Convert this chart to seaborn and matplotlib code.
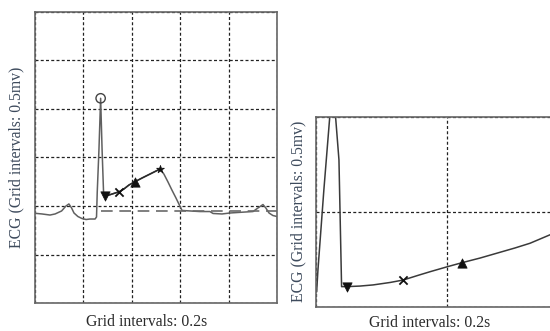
import numpy as np
import pandas as pd
import seaborn as sns
import matplotlib.pyplot as plt

# Left panel: one full beat (x in s, y in mV, grid 0.2 s x 0.5 mV)
left_t = [0.000, 0.029, 0.062, 0.083, 0.110, 0.128, 0.140, 0.151, 0.161, 0.177,
          0.194, 0.211, 0.227, 0.248, 0.254, 0.257, 0.264, 0.271, 0.277, 0.283,
          0.287, 0.318, 0.348, 0.367, 0.388, 0.413, 0.442, 0.475, 0.499, 0.516,
          0.532, 0.549, 0.565, 0.582, 0.598, 0.607, 0.640, 0.681, 0.722, 0.735,
          0.772, 0.805, 0.867, 0.900, 0.920, 0.941, 0.953, 0.966, 0.982, 0.999]
left_v = [0.926, 0.919, 0.908, 0.919, 0.950, 1.001, 1.022, 0.981, 0.929, 0.893,
          0.872, 0.862, 0.867, 0.867, 0.888, 1.145, 1.577, 2.109, 1.577, 1.145,
          1.099, 1.124, 1.148, 1.176, 1.217, 1.251, 1.289, 1.330, 1.360, 1.381,
          1.330, 1.248, 1.166, 1.083, 1.001, 0.955, 0.950, 0.944, 0.944, 0.924,
          0.919, 0.929, 0.939, 0.944, 0.980, 1.016, 0.980, 0.929, 0.903, 0.893]
left_baseline = 0.950
left_baseline_start = 0.271
# fiducial points: R peak, S, J-ish, ST mid, T peak
left_marks = {"o": (0.271, 2.109), "v": (0.287, 1.099), "x": (0.348, 1.148),
              "^": (0.413, 1.251), "*": (0.516, 1.381)}

# Right panel: zoomed ST segment
right_t = [0.001, 0.003, 0.012, 0.021, 0.024, 0.027, 0.030, 0.035, 0.039, 0.047,
           0.067, 0.087, 0.113, 0.133, 0.155, 0.174, 0.200, 0.222, 0.250, 0.275,
           0.303, 0.326, 0.356, 0.399]
right_v = [0.078, 0.194, 0.616, 1.003, 1.144, 1.144, 0.996, 0.775, 0.106, 0.106,
           0.109, 0.115, 0.128, 0.141, 0.165, 0.185, 0.211, 0.232, 0.257, 0.282,
           0.310, 0.335, 0.379, 0.440]
right_marks = {"v": (0.047, 0.106), "x": (0.133, 0.141), "^": (0.222, 0.232)}

ylab = "ECG (Grid intervals: 0.5mv)"
xlab = "Grid intervals: 0.2s"

sns.set_style("white")
plt.rcParams["font.family"] = ["Liberation Serif", "DejaVu Serif"]

fig = plt.figure(figsize=(5.5, 3.31), dpi=100)
ax1 = fig.add_axes([0.0636, 0.0837, 0.4405, 0.881])
ax2 = fig.add_axes([0.5745, 0.0734, 0.4775, 0.5722])

grid_kw = dict(color="#222222", lw=0.9, linestyle=(0, (2.4, 1.8)))


def style_axes(ax, xmax, ymax):
    ax.set_xlim(0, xmax)
    ax.set_ylim(0, ymax)
    ax.set_xticks(np.arange(0, xmax + 1e-6, 0.2))
    ax.set_yticks(np.arange(0, ymax + 1e-6, 0.5))
    ax.tick_params(length=0, labelbottom=False, labelleft=False)
    ax.grid(True, **grid_kw)
    ax.set_xlabel("")
    ax.set_ylabel("")
    for s in ax.spines.values():
        s.set_color("#666666")
        s.set_linewidth(1.2)


def draw_marks(ax, marks):
    for m, (mx, my) in marks.items():
        if m == "o":
            ax.scatter([mx], [my], marker="o", s=45, facecolors="none",
                       edgecolors="#444444", linewidths=1.0, zorder=5)
        else:
            sns.scatterplot(x=[mx], y=[my], marker=m, s=45 if m in "v^" else 35,
                            color="#111111", edgecolor="#111111",
                            linewidth=1.3 if m == "x" else 0.5, ax=ax, zorder=5)


# left panel
dfl = pd.DataFrame({"t": left_t, "v": left_v})
sns.lineplot(data=dfl, x="t", y="v", sort=False, estimator=None, color="#606060", lw=1.1, ax=ax1)
seg = dfl[(dfl.t >= 0.287) & (dfl.t <= 0.516)]
sns.lineplot(data=seg, x="t", y="v", sort=False, estimator=None, color="#2a2a2a", lw=1.1, ax=ax1)
ax1.plot([left_baseline_start, 1.0], [left_baseline, left_baseline], color="#6a6a6a",
         lw=1.2, linestyle=(0, (7, 4)))
draw_marks(ax1, left_marks)
style_axes(ax1, 1.0, 3.0)

# right panel
dfr = pd.DataFrame({"t": right_t, "v": right_v})
sns.lineplot(data=dfr, x="t", y="v", sort=False, estimator=None, color="#3a3a3a", lw=1.1, ax=ax2)
draw_marks(ax2, right_marks)
style_axes(ax2, 0.4, 1.0)
ax2.spines["right"].set_visible(False)

# axis titles placed where they sit in the original
for (xx, xy), (yx, yy) in [((0.2667, 0.0281), (0.0304, 0.5242)),
                           ((0.7818, 0.0240), (0.5424, 0.3610))]:
    fig.text(xx, xy, xlab, fontsize=11.3, color="#2a2a2a", ha="center", va="center")
    fig.text(yx, yy, ylab, fontsize=11.3, color="#3d4a5c", ha="center", va="center",
             rotation=90)

fig.savefig("out.png", dpi=100, facecolor="white")
